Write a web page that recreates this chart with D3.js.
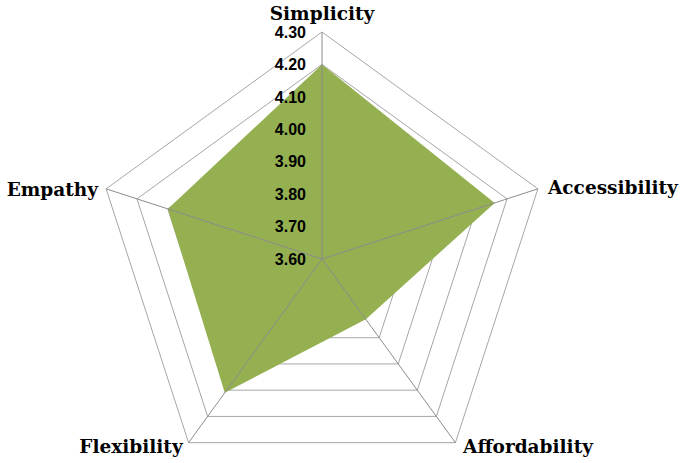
<!DOCTYPE html>
<html>
<head>
<meta charset="utf-8">
<script src="https://cdn.jsdelivr.net/npm/d3@7"></script>
<style>
  body { margin: 0; background: #fff; }
</style>
</head>
<body>
<div id="chart"></div>
<script>
// data
var categories = ["Simplicity", "Accessibility", "Affordability", "Flexibility", "Empathy"];
var values = [4.20, 4.16, 3.83, 4.11, 4.10];
var tickValues = [3.60, 3.70, 3.80, 3.90, 4.00, 4.10, 4.20, 4.30];

var width = 685, height = 463;
var cx = 322, cy = 259, radius = 227;

var svg = d3.select("#chart").append("svg")
    .attr("width", width)
    .attr("height", height);

var g = svg.append("g")
    .attr("transform", "translate(" + cx + "," + cy + ")");

// radial scale
var r = d3.scaleLinear().domain([3.60, 4.30]).range([0, radius]);
var angle = d3.scaleLinear().domain([0, categories.length]).range([0, 2 * Math.PI]);

function pt(i, v) {
    var a = angle(i);
    return [Math.sin(a) * r(v), -Math.cos(a) * r(v)];
}

// grid rings
g.selectAll(".ring")
    .data(tickValues.slice(1))
    .enter().append("polygon")
    .attr("class", "ring")
    .attr("points", function (t) {
        return categories.map(function (c, i) { return pt(i, t).join(","); }).join(" ");
    })
    .attr("fill", "none")
    .attr("stroke", "#a6a6a6")
    .attr("stroke-width", 1);

// filled series
g.append("path")
    .datum(values)
    .attr("d", d3.line()
        .x(function (d, i) { return pt(i, d)[0]; })
        .y(function (d, i) { return pt(i, d)[1]; })
        .curve(d3.curveLinearClosed))
    .attr("fill", "#94b050")
    .attr("stroke", "none");

// spokes
g.selectAll(".spoke")
    .data(categories)
    .enter().append("line")
    .attr("class", "spoke")
    .attr("x1", 0).attr("y1", 0)
    .attr("x2", function (d, i) { return pt(i, 4.30)[0]; })
    .attr("y2", function (d, i) { return pt(i, 4.30)[1]; })
    .attr("stroke", "#8c8c8c")
    .attr("stroke-width", 1);

// tick labels along the top spoke
g.selectAll(".tick")
    .data(tickValues)
    .enter().append("text")
    .attr("class", "tick")
    .attr("x", -16)
    .attr("y", function (d) { return -r(d); })
    .attr("dy", "0.36em")
    .attr("text-anchor", "end")
    .style("font-family", "'Liberation Sans', Arial, sans-serif")
    .style("font-weight", "bold")
    .style("font-size", "16px")
    .text(function (d) { return d.toFixed(2); });

// category labels
var labelPos = [
    {x: 0, y: -r(4.30) - 18, anchor: "middle"},
    {x: 226, y: -71, anchor: "start"},
    {x: 206, y: 188, anchor: "middle"},
    {x: -191, y: 188, anchor: "middle"},
    {x: -224, y: -69, anchor: "end"}
];

g.selectAll(".cat")
    .data(categories)
    .enter().append("text")
    .attr("class", "cat")
    .attr("x", function (d, i) { return labelPos[i].x; })
    .attr("y", function (d, i) { return labelPos[i].y; })
    .attr("text-anchor", function (d, i) { return labelPos[i].anchor; })
    .attr("dy", "0.35em")
    .style("font-family", "'DejaVu Serif', serif")
    .style("font-weight", "bold")
    .style("font-size", "18.5px")
    .text(function (d) { return d; });
</script>
</body>
</html>
